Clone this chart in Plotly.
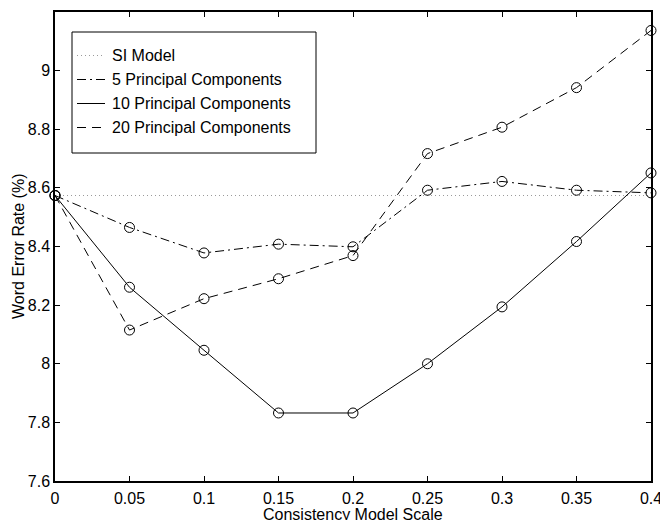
import plotly.graph_objects as go

# Consistency model scale values (x axis)
scale = [0, 0.05, 0.1, 0.15, 0.2, 0.25, 0.3, 0.35, 0.4]

# Word error rates (%) per configuration
si_model = [8.574] * len(scale)
pc5 = [8.574, 8.465, 8.378, 8.408, 8.399, 8.592, 8.622, 8.592, 8.583]
pc10 = [8.574, 8.261, 8.046, 7.832, 7.832, 8.000, 8.194, 8.417, 8.651]
pc20 = [8.574, 8.115, 8.222, 8.290, 8.369, 8.717, 8.807, 8.942, 9.137]

x_ticks = [0, 0.05, 0.1, 0.15, 0.2, 0.25, 0.3, 0.35, 0.4]
x_tick_text = ["0", "0.05", "0.1", "0.15", "0.2", "0.25", "0.3", "0.35", "0.4"]
y_ticks = [7.6, 7.8, 8.0, 8.2, 8.4, 8.6, 8.8, 9.0]
y_tick_text = ["7.6", "7.8", "8", "8.2", "8.4", "8.6", "8.8", "9"]

names = ["SI Model", "5 Principal Components", "10 Principal Components", "20 Principal Components"]
x_title = "Consistency Model Scale"
y_title = "Word Error Rate (%)"

FONT = "Liberation Sans, Arial, Helvetica, sans-serif"
W, H = 660, 520
ML, MR, MT, MB = 55, 9, 12, 39
PW, PH = W - ML - MR, H - MT - MB


def px(x):
    """Pixel column -> paper x."""
    return (x - ML) / PW


def py(y):
    """Pixel row -> paper y."""
    return 1 - (y - MT) / PH


styles = [
    (dict(color="#9a9a9a", width=1, dash="1px,3px"), False),
    (dict(color="black", width=1, dash="9px,4px,2px,4px"), True),
    (dict(color="black", width=1), True),
    (dict(color="black", width=1, dash="9px,6px"), True),
]

fig = go.Figure()

for name, ys, (line, with_markers) in zip(names, [si_model, pc5, pc10, pc20], styles):
    fig.add_trace(go.Scatter(
        x=scale, y=ys, name=name,
        mode="lines+markers" if with_markers else "lines",
        line=line,
        marker=dict(symbol="circle-open", size=10, color="black", line=dict(width=1, color="black")),
        showlegend=False,
        hoverinfo="skip",
        cliponaxis=False,
    ))

# Boxed legend in the upper-left corner
shapes = [dict(
    type="rect", xref="paper", yref="paper",
    x0=px(72), x1=px(316), y0=py(32), y1=py(153),
    line=dict(color="black", width=1), fillcolor="white", layer="above",
)]
annotations = []
row_y = [55.5, 79.5, 103.5, 127.5]
for name, (line, _), ry in zip(names, styles, row_y):
    shapes.append(dict(
        type="line", xref="paper", yref="paper",
        x0=px(77), x1=px(105), y0=py(ry), y1=py(ry),
        line=line, layer="above",
    ))
    annotations.append(dict(
        xref="paper", yref="paper", x=px(110), y=py(ry),
        xanchor="left", yanchor="middle", showarrow=False,
        text=name, font=dict(family=FONT, size=16, color="black"),
    ))

# Axis titles
annotations.append(dict(
    xref="paper", yref="paper", x=0.5, y=py(514),
    xanchor="center", yanchor="middle", showarrow=False,
    text=x_title, font=dict(family=FONT, size=16, color="black"),
))
annotations.append(dict(
    xref="paper", yref="paper", x=px(18.5), y=0.5,
    xanchor="center", yanchor="middle", showarrow=False, textangle=-90,
    text=y_title, font=dict(family=FONT, size=16, color="black"),
))

axis_common = dict(
    showgrid=False, zeroline=False,
    showline=True, linecolor="black", linewidth=1.5, mirror="allticks",
    ticks="inside", ticklen=5, tickcolor="black", tickwidth=1,
    tickfont=dict(family=FONT, size=16, color="black"),
    ticklabeloverflow="allow",
    automargin=False,
)

fig.update_xaxes(
    range=[0, 0.4], tickvals=x_ticks, ticktext=x_tick_text,
    ticklabelstandoff=2,
    **axis_common,
)
fig.update_yaxes(
    range=[7.6, 9.2], tickvals=y_ticks, ticktext=y_tick_text,
    **axis_common,
)

fig.update_layout(
    template="none",
    width=W, height=H,
    margin=dict(l=ML, r=MR, t=MT, b=MB),
    paper_bgcolor="white", plot_bgcolor="white",
    font=dict(family=FONT, size=16, color="black"),
    showlegend=False,
    shapes=shapes,
    annotations=annotations,
)

fig.write_html("out.html")
